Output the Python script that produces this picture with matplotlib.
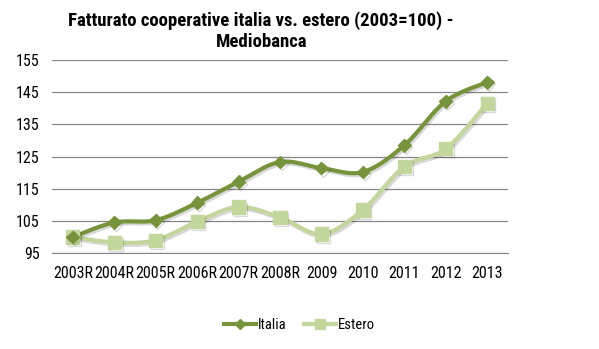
import numpy as np
import matplotlib
matplotlib.use("Agg")
import matplotlib.pyplot as plt
import matplotlib.patheffects as pe
from matplotlib import font_manager

# ── Data ────────────────────────────────────────────────────
years = ["2003R", "2004R", "2005R", "2006R", "2007R", "2008R",
         "2009", "2010", "2011", "2012", "2013"]
italia = [100, 104.5, 105.2, 110.6, 117.2, 123.3, 121.4, 120.2, 128.5, 142.2, 148.1]
estero = [100, 98.3, 99.0, 104.8, 109.3, 106.1, 100.9, 108.4, 121.9, 127.4, 141.6]

C_ITA = "#77933C"
C_EST = "#C3D69B"

# condensed face if one is around, else DejaVu
names = {f.name for f in font_manager.fontManager.ttflist}
FONT = next((n for n in ["Roboto Condensed", "Archivo Narrow", "Asap Condensed",
                         "Liberation Sans Narrow"] if n in names), "DejaVu Sans")
plt.rcParams["font.family"] = [FONT, "DejaVu Sans"]


def smooth(y, n=30):
    # Bezier curve through the points, like Excel's smoothed line
    x = np.arange(len(y), dtype=float)
    p = np.column_stack([x, np.asarray(y, float)])
    p = np.vstack([p[0], p, p[-1]])
    out = []
    t = np.linspace(0, 1, n, endpoint=False)[:, None]
    for i in range(1, len(p) - 2):
        p0, p1, p2, p3 = p[i - 1], p[i], p[i + 1], p[i + 2]
        c1 = p1 + (p2 - p0) / 6
        c2 = p2 - (p3 - p1) / 6
        seg = ((1 - t) ** 3) * p1 + 3 * ((1 - t) ** 2) * t * c1 \
            + 3 * (1 - t) * t ** 2 * c2 + t ** 3 * p2
        out.append(seg)
    out.append(p[-2][None, :])
    out = np.vstack(out)
    return out[:, 0], out[:, 1]


fig = plt.figure(figsize=(5.99, 3.49), dpi=100, facecolor="white")
ax = fig.add_axes([0.087, 0.275, 0.761, 0.553])

shadow = [pe.SimpleLineShadow(offset=(1.2, -1.5), alpha=0.15), pe.Normal()]
xs = np.arange(len(years))

for vals, col, mk, ms, lab in [(estero, C_EST, "s", 9.5, "Estero"),
                               (italia, C_ITA, "D", 6.5, "Italia")]:
    sx, sy = smooth(vals)
    ax.plot(sx, sy, color=col, lw=3, solid_capstyle="round",
            path_effects=shadow, zorder=3)
    ax.plot(xs, vals, linestyle="none", marker=mk, markersize=ms,
            color=col, markeredgecolor=col, zorder=4,
            path_effects=shadow)
    ax.plot([], [], color=col, lw=3, marker=mk, markersize=ms * 0.75,
            label=lab)

ax.set_xlim(-0.5, len(years) - 0.5)
ax.set_ylim(95, 155)
ax.set_yticks(np.arange(95, 156, 10))
ax.set_xticks(xs)
ax.set_xticklabels(years)
ax.grid(axis="y", color="#868686", lw=0.9)
ax.set_axisbelow(True)
for s in ["top", "right", "left"]:
    ax.spines[s].set_visible(False)
ax.spines["bottom"].set_color("#868686")
ax.tick_params(axis="both", length=0, labelsize=11.5, pad=9)

fig.text(0.436, 0.968, "Fatturato cooperative italia vs. estero (2003=100) -\nMediobanca",
         ha="center", va="top", fontsize=13.5, fontweight="bold",
         linespacing=1.25)

handles, labels = ax.get_legend_handles_labels()
order = [1, 0]
fig.legend([handles[i] for i in order], [labels[i] for i in order],
           loc="center", bbox_to_anchor=(0.5, 0.068), ncol=2, frameon=False,
           fontsize=10.5, handlelength=2.2, handletextpad=0.1, columnspacing=1.2)

fig.savefig("out.png", dpi=100, facecolor="white")
